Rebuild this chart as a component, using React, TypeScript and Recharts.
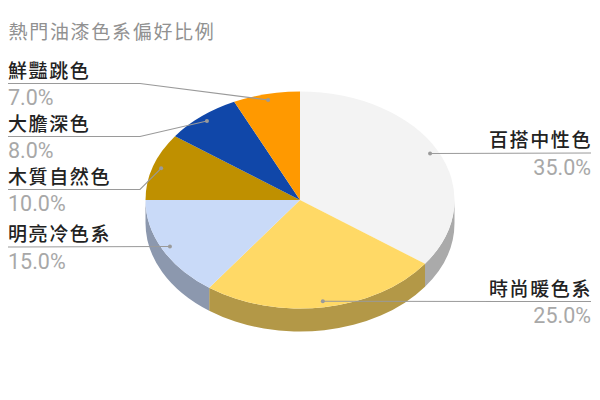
import React from "react";
import { PieChart, Pie, Cell } from "recharts";

const title = "熱門油漆色系偏好比例";
const categories = ["百搭中性色", "時尚暖色系", "明亮冷色系", "木質自然色", "大膽深色", "鮮豔跳色"];
const shares = [35, 25, 15, 10, 8, 7];
const topColors = ["#f3f3f3", "#ffd966", "#c9daf8", "#bf9000", "#1047a9", "#ff9900"];
const sideColors = ["#aaaaaa", "#b39847", "#8c98ae", "#866500", "#0b3276", "#b36b00"];
const labelRuleY = [153, 301.5, 247, 189.5, 136.5, 83.5];

const data = categories.map((name, i) => ({ name, value: shares[i] }));

const CX = 300;
const CY = 200;
const RX = 154.5;
const SQUASH = 108.5 / 154.5;
const DEPTH = 23;
const LEFT = 8;
const RIGHT = 591;
const ELBOW = 140;
const DOT_R = 0.945;
const CJK = "'Noto Sans CJK TC', sans-serif";
const LATIN = "Roboto, sans-serif";

const rad = (d: number) => (d * Math.PI) / 180;
const pt = (cx: number, cy: number, r: number, a: number) => [
  cx + r * Math.cos(rad(a)),
  cy - r * SQUASH * Math.sin(rad(a)),
];

function sidePath(cx: number, cy: number, r: number, start: number, end: number) {
  const lo = Math.max(end, -180);
  const hi = Math.min(start, 0);
  if (lo >= hi) return null;
  const ry = r * SQUASH;
  const [x1, y1] = pt(cx, cy, r, hi);
  const [x2, y2] = pt(cx, cy, r, lo);
  return `M${x1},${y1} A${r},${ry} 0 0 1 ${x2},${y2} L${x2},${y2 + DEPTH} A${r},${ry} 0 0 0 ${x1},${y1 + DEPTH} Z`;
}

function DiscSlice(props: any) {
  const { cx, cy, outerRadius, startAngle, endAngle, fill, index } = props;
  const ry = outerRadius * SQUASH;
  const [x1, y1] = pt(cx, cy, outerRadius, startAngle);
  const [x2, y2] = pt(cx, cy, outerRadius, endAngle);
  const large = Math.abs(startAngle - endAngle) > 180 ? 1 : 0;
  const wall = sidePath(cx, cy, outerRadius, startAngle, endAngle);
  return (
    <g>
      {wall && <path d={wall} fill={sideColors[index]} />}
      <path
        d={`M${cx},${cy} L${x1},${y1} A${outerRadius},${ry} 0 ${large} 1 ${x2},${y2} Z`}
        fill={fill}
      />
    </g>
  );
}

function LeaderLabel(props: any) {
  const { cx, cy, outerRadius, midAngle, index } = props;
  const [dx, dy] = pt(cx, cy, outerRadius * DOT_R, midAngle);
  const ruleY = labelRuleY[index];
  const onRight = dx > cx;
  const needsElbow = Math.abs(dy - ruleY) > 1;
  const points = onRight
    ? `${dx},${dy} ${RIGHT},${ruleY}`
    : needsElbow
      ? `${dx},${dy} ${ELBOW},${ruleY} ${LEFT},${ruleY}`
      : `${dx},${dy} ${LEFT},${ruleY}`;
  const x = onRight ? RIGHT : LEFT;
  const anchor = onRight ? "end" : "start";
  return (
    <g>
      <polyline points={points} fill="none" stroke="#9a9a9a" strokeWidth={1.1} />
      <circle cx={dx} cy={dy} r={2} fill="#9a9a9a" />
      <text x={onRight ? x + 1 : x} y={ruleY - 6} textAnchor={anchor} fontSize={19} fontWeight={500} letterSpacing={1.6} fontFamily={CJK} fill="#222222">
        {categories[index]}
      </text>
      <text x={x} y={ruleY + 21.5} textAnchor={anchor} fontSize={21.5} fontFamily={LATIN} fill="#a8a8a8">
        {shares[index].toFixed(1)}%
      </text>
    </g>
  );
}

export default function App() {
  return (
    <div style={{ position: "absolute", left: 0, top: 0, width: 600, height: 400, background: "#fff" }}>
      <PieChart width={600} height={400} margin={{ top: 0, right: 0, bottom: 0, left: 0 }}>
        <text x={8.5} y={39} fontSize={19} fontWeight={400} letterSpacing={1.7} fontFamily={CJK} fill="#919191">
          {title}
        </text>
        <Pie
          data={data}
          dataKey="value"
          nameKey="name"
          cx={CX}
          cy={CY}
          innerRadius={0}
          outerRadius={RX}
          startAngle={90}
          endAngle={-270}
          paddingAngle={0}
          stroke="none"
          isAnimationActive={false}
          shape={DiscSlice}
          label={LeaderLabel}
          labelLine={false}
        >
          {data.map((d, i) => (
            <Cell key={d.name} fill={topColors[i]} />
          ))}
        </Pie>
      </PieChart>
    </div>
  );
}
